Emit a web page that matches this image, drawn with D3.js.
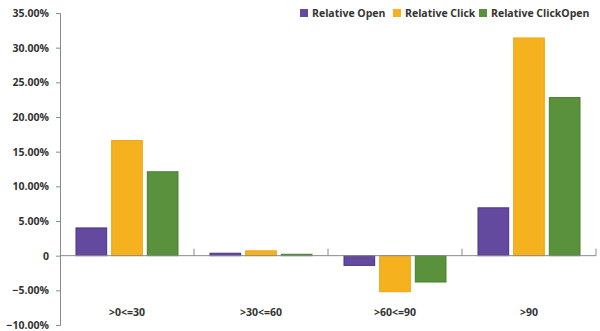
<!DOCTYPE html>
<html><head><meta charset="utf-8">
<script src="https://cdn.jsdelivr.net/npm/d3@7"></script>
<style>body{margin:0;background:#fff}svg{display:block}</style>
</head><body><div id="c"></div>
<script>
const categories = [">0<=30", ">30<=60", ">60<=90", ">90"];
const seriesNames = ["Relative Open", "Relative Click", "Relative ClickOpen"];
const relativeOpen = [4.0, 0.35, -1.4, 6.9];
const relativeClick = [16.6, 0.7, -5.2, 31.4];
const relativeClickOpen = [12.1, 0.2, -3.8, 22.8];
const yTicks = [-10, -5, 0, 5, 10, 15, 20, 25, 30, 35];
const colors = ["#644a9e", "#f6b11f", "#5a913c"];
const strokes = ["#4a2f8c", "#f0a510", "#46802c"];

const W = 600, H = 331;
const svg = d3.select("#c").append("svg").attr("width", W).attr("height", H);
const font = "'Open Sans', sans-serif";

const y = d3.scaleLinear().domain([-10, 35]).range([325, 13]);
const x0 = d3.scaleBand().domain(categories).range([60, 596]).paddingInner(0).paddingOuter(0);
const x1 = d3.scaleBand().domain(seriesNames).range([16, x0.bandwidth() - 16]).paddingInner(0.14).paddingOuter(0);

const series = [relativeOpen, relativeClick, relativeClickOpen];

// y axis
const yAxis = svg.append("g").attr("transform", "translate(60,0)")
  .call(d3.axisLeft(y).tickValues(yTicks).tickSize(4).tickPadding(7)
    .tickFormat(d => d === 0 ? "0" : d3.format(".2f")(d) + "%"));
yAxis.select(".domain").attr("stroke", "#8a8a8a");
yAxis.selectAll(".tick line").attr("stroke", "#8a8a8a");
yAxis.selectAll("text").attr("font-family", font).attr("font-weight", "bold")
  .attr("font-size", 10.5).attr("fill", "#333");

// bars
categories.forEach((c, i) => {
  const g = svg.append("g").attr("transform", `translate(${x0(c)},0)`);
  series.forEach((s, j) => {
    const v = s[i];
    g.append("rect")
      .attr("x", x1(seriesNames[j]))
      .attr("y", y(Math.max(0, v)))
      .attr("width", x1.bandwidth())
      .attr("height", Math.abs(y(v) - y(0)))
      .attr("fill", colors[j]).attr("stroke", strokes[j]).attr("stroke-width", 1);
  });
});

// x axis at zero with upward ticks at band boundaries
const xg = svg.append("g");
xg.append("line").attr("x1", 60).attr("x2", 596).attr("y1", y(0)).attr("y2", y(0)).attr("stroke", "#8a8a8a");
const bounds = categories.map(c => x0(c) + x0.bandwidth()).filter((d, i) => i >= 0);
xg.selectAll(".xt").data(bounds).enter().append("line")
  .attr("x1", d => d).attr("x2", d => d).attr("y1", y(0)).attr("y2", y(0) - 7).attr("stroke", "#8a8a8a");
xg.selectAll(".xl").data(categories).enter().append("text")
  .attr("x", d => x0(d) + x0.bandwidth() / 2).attr("y", 316)
  .attr("text-anchor", "middle").attr("font-family", font).attr("font-weight", "bold")
  .attr("font-size", 10.5).attr("fill", "#333").text(d => d);

// legend
const legendX = [300, 393, 479];
const lg = svg.append("g");
seriesNames.forEach((n, j) => {
  lg.append("rect").attr("x", legendX[j]).attr("y", 9).attr("width", 8).attr("height", 8).attr("fill", colors[j]);
  lg.append("text").attr("x", legendX[j] + 12).attr("y", 17).attr("font-family", font)
    .attr("font-weight", "bold").attr("font-size", 10.5).attr("fill", "#333").text(n);
});
</script></body></html>
